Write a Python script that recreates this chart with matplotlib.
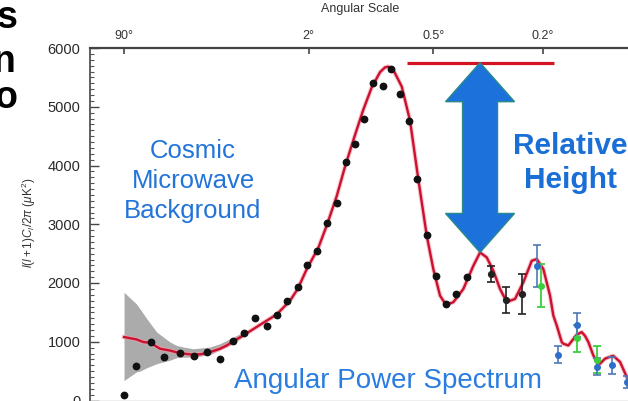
import numpy as np
import matplotlib.pyplot as plt
from matplotlib.patches import Polygon
from matplotlib.transforms import IdentityTransform

plt.rcParams['font.family'] = ['Liberation Sans', 'DejaVu Sans']
plt.rcParams['mathtext.fontset'] = 'custom'
plt.rcParams['mathtext.rm'] = 'Liberation Sans'
plt.rcParams['mathtext.it'] = 'Liberation Sans:italic'

# ---- best-fit model spectrum: multipole l vs l(l+1)C_l/2pi [uK^2] ----
model_l = [2.0, 3.0, 3.7, 4.5, 5.9, 7.6, 9.6, 13.0, 15.5, 18.3, 22.2, 25.2, 28.4,
           33.7, 44.4, 57.4, 69.6, 77.5, 87.6, 102, 113.5, 128.4, 141.8, 159.4,
           175.2, 192.4, 210.6, 222.1, 230, 242.3, 264.1, 287.1, 311.6, 337.9,
           359.6, 382.8, 404.5, 432.2, 472.3, 515.2, 545.5, 577.1, 609.6, 644,
           679.8, 726.1, 774.9, 826.6, 858.7, 902.3, 948.3, 971.6, 996.1, 1032.8,
           1044.8, 1083, 1149.4, 1190.3, 1217.9, 1246, 1289.5, 1319.7, 1349.6,
           1395.7, 1459.4, 1474.9, 1524.3, 1541.4, 1609.9, 1623.4]
model_dl = [1080, 1040, 995, 983, 881, 850, 805, 780, 790, 825, 880, 937, 1010,
            1107, 1288, 1466, 1700, 1900, 2237, 2600, 2980, 3480, 3980, 4520,
            4950, 5330, 5590, 5670, 5683, 5627, 5344, 4763, 3763, 2805,
            2237, 1785, 1627, 1673, 1898, 2293, 2520, 2436, 2209, 1898,
            1678, 1729, 2012, 2378, 2407, 2237, 1785, 1446, 1276, 995,
            966, 937, 1120, 1164, 1100, 995, 768, 656, 627,
            712, 754, 760, 683, 656, 401, 356]

# cosmic variance band at low l
cv_l = [2.0, 3.0, 3.35, 4.1, 5.4, 7.6, 8.9, 10.4, 13.0, 18.3, 22.2, 28.4, 31.9, 34.7]
cv_lo = [339, 486, 500, 559, 627, 686, 729, 737, 740, 780, 864, 966, 1051, 1110]
cv_hi = [1842, 1644, 1559, 1390, 1164, 995, 937, 910, 881, 910, 966, 1080, 1136, 1150]

# binned measurements
wmap_l = [2.0, 3.0, 4.6, 6.6, 9.6, 13.3, 17.3, 22.2, 28.1, 34.3, 41.2, 49.7, 57.9,
          67.0, 77.5, 88.3, 100.7, 113.5, 128.4, 143.0, 160.0, 177.2, 195.8,
          216.7, 235.8, 259.6, 283.7, 308.5, 337.9, 368.9, 404.5, 442.7, 489.1]
wmap_dl = [100, 588, 995, 734, 814, 757, 830, 700, 1012, 1147, 1412, 1276, 1458,
           1700, 1927, 2310, 2548, 3017, 3368, 4068, 4368, 4792, 5402,
           5356, 5644, 5221, 4750, 3763, 2814, 2113, 1639, 1819, 2102]

wmap_hi_l = [596.6, 676, 767]
wmap_hi_dl = [2153, 1717, 1814]
wmap_hi_err = [130, 220, 340]

blue_l = [858.7, 1007.7, 1149.4, 1319.7, 1459.4, 1609.9]
blue_dl = [2290, 780, 1288, 571, 598, 317]
blue_err = [365, 150, 200, 145, 150, 100]

green_l = [883.6, 1149.4, 1325]
green_dl = [1950, 1063, 690]
green_err = [365, 230, 230]

# top axis: angular scale
scale_l = [2, 90, 360, 900]
scale_labels = ['90°', '2°', '0.5°', '0.2°']

# first peak reference level
peak_level = 5750
peak_line_l = [279, 977]

W, H = 628, 401
fig = plt.figure(figsize=(W / 100, H / 100), dpi=100)
ax = fig.add_axes([90 / W, (H - 400.5) / H, (W - 90) / W, (400.5 - 48) / H])


def fwd(l):
    return np.power(np.clip(l, 0, None), 0.25)


def inv(u):
    return np.power(u, 4)


ax.set_xscale('function', functions=(fwd, inv))
ax.set_xlim(0.5, 1623)
ax.set_ylim(0, 6000)

ax.fill_between(cv_l, cv_lo, cv_hi, color='#ababab', lw=0, zorder=1)
ax.plot(model_l, model_dl, color='#f2a0aa', lw=3.2, alpha=0.6, zorder=2)
ax.plot(model_l, model_dl, color='#cc1030', lw=1.7, zorder=2)

ax.plot(wmap_l, wmap_dl, 'o', color='#111111', ms=4.6, zorder=3)
ax.errorbar(wmap_hi_l, wmap_hi_dl, yerr=wmap_hi_err, fmt='o', color='#222222',
            ms=4.2, capsize=3, elinewidth=1.2, capthick=1.2, zorder=3)
ax.errorbar(green_l, green_dl, yerr=green_err, fmt='o', color='#3ccf3c',
            ms=4.0, capsize=3, elinewidth=1.3, capthick=1.3, zorder=3)
ax.errorbar(blue_l, blue_dl, yerr=blue_err, fmt='o', color='#2f6ec9',
            ecolor='#4f78b8', ms=4.0, capsize=3, elinewidth=1.2, capthick=1.2,
            zorder=3)

# red reference line at the first peak height
ax.hlines(peak_level, peak_line_l[0], peak_line_l[1], color='#d41422', lw=2.3, zorder=4)

# double arrow from the reference line down to the second peak
model_l_arr = np.array(model_l)
model_dl_arr = np.array(model_dl)
sel = (model_l_arr > 450) & (model_l_arr < 700)
i2 = np.argmax(np.where(sel, model_dl_arr, -1))
xc, top = ax.transData.transform((model_l_arr[i2], peak_level))
_, bot = ax.transData.transform((model_l_arr[i2], model_dl_arr[i2]))
hw, sw, hl = 34.5, 17.5, 39
verts = [(xc, top), (xc + hw, top - hl), (xc + sw, top - hl), (xc + sw, bot + hl),
         (xc + hw, bot + hl), (xc, bot), (xc - hw, bot + hl), (xc - sw, bot + hl),
         (xc - sw, top - hl), (xc - hw, top - hl)]
ax.add_patch(Polygon(verts, closed=True, transform=IdentityTransform(),
                     fc='#1c72da', ec='#2a8a8a', lw=1.0, zorder=5))

# axes styling
ax.spines['right'].set_visible(False)
ax.spines['top'].set_color('#444444')
ax.spines['top'].set_linewidth(1.6)
ax.spines['left'].set_color('#444444')
ax.spines['left'].set_linewidth(1.2)
ax.spines['bottom'].set_color('#b0b0b0')
ax.spines['bottom'].set_linewidth(1.0)

ax.xaxis.set_ticks_position('top')
ax.set_xticks(scale_l)
ax.set_xticklabels(scale_labels)
ax.xaxis.set_minor_locator(plt.NullLocator())
ax.tick_params(axis='x', which='major', direction='in', length=4, width=1.2,
               color='#444444', top=True, bottom=False, labeltop=True,
               labelbottom=False, pad=4, labelsize=9, labelcolor='#333333')

ax.set_yticks(np.arange(0, 6001, 1000))
ax.yaxis.set_minor_locator(plt.MultipleLocator(100))
ax.tick_params(axis='y', which='major', direction='in', length=6.5, width=1.0,
               color='#444444', pad=7, labelsize=10.5, labelcolor='#2a2a2a')
ax.tick_params(axis='y', which='minor', direction='in', length=3, width=0.8,
               color='#555555')

fig.text(360 / W, 1 - 9 / H, 'Angular Scale', ha='center', va='center',
         fontsize=9, color='#333333')
fig.text(29 / W, 1 - 223 / H, r'$\mathit{l}(\mathit{l}+1)C_{\mathit{l}}/2\pi$ ($\mu$K$^2$)',
         rotation=90, ha='center', va='center', fontsize=8.5, color='#333333')

fig.text(193 / W, 1 - 181 / H, 'Cosmic\nMicrowave\nBackground', ha='center',
         va='center', fontsize=18.5, color='#2374d9', linespacing=1.3)

fig.text(570 / W, 1 - 163 / H, 'Relative\nHeight', ha='center', va='center',
         fontsize=21.5, fontweight='bold', color='#1a6fd6', linespacing=1.25)

fig.text(388 / W, 1 - 388 / H, 'Angular Power Spectrum', ha='center',
         va='baseline', fontsize=20, color='#2a7de0',
         bbox=dict(fc='white', ec='none', pad=1))

# fragments of a neighbouring heading
for ch, xr, yb in [('s', 18, 28), ('n', 15, 72), ('o', 17, 108)]:
    fig.text(xr / W, 1 - yb / H, ch, ha='right', va='baseline', fontsize=27,
             fontweight='bold', color='black')

fig.savefig('out.png', dpi=100)
